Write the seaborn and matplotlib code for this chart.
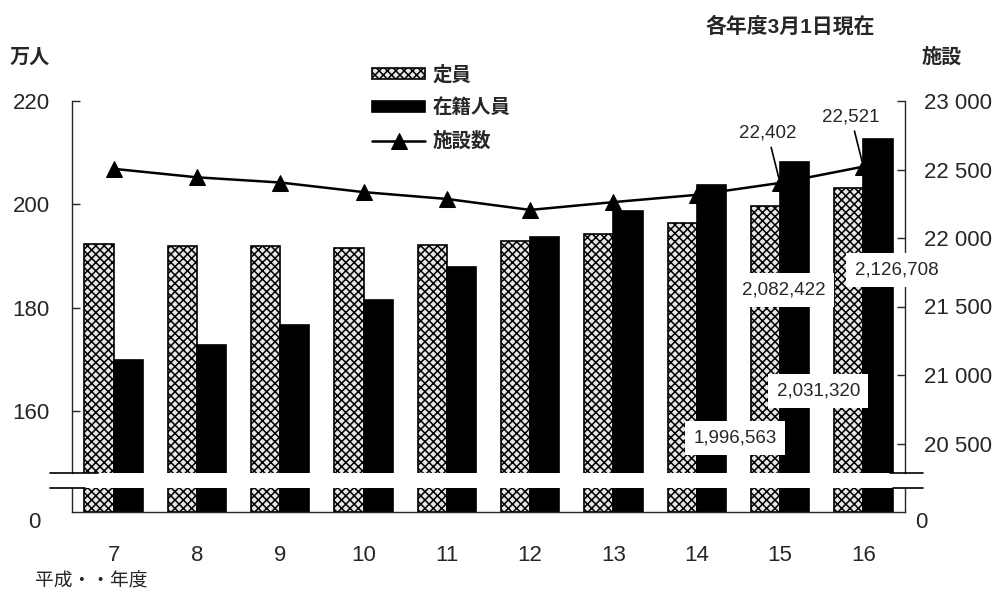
import numpy as np
import pandas as pd
import matplotlib
matplotlib.use("Agg")
import matplotlib.pyplot as plt
from matplotlib.lines import Line2D
from matplotlib.ticker import FuncFormatter
import seaborn as sns

# データ (万人 / 施設)
years = ["7", "8", "9", "10", "11", "12", "13", "14", "15", "16"]
capacity = [192.3, 191.9, 191.9, 191.6, 192.2, 192.9, 194.2, 196.4, 199.6563, 203.1320]   # 定員
enrolled = [170.0, 172.9, 176.7, 181.6, 187.9, 193.7, 198.8, 203.7, 208.2422, 212.6708]   # 在籍人員
facilities = [22505, 22443, 22405, 22335, 22285, 22205, 22262, 22315, 22402, 22521]      # 施設数
series_names = ["定員", "在籍人員"]
line_name = "施設数"

left_ticks = [160, 180, 200, 220]
right_ticks = [20500, 21000, 21500, 22000, 22500, 23000]

df = pd.DataFrame({
    "year": years * 2,
    "series": [series_names[0]] * len(years) + [series_names[1]] * len(years),
    "value": capacity + enrolled,
})

sns.set_style("white")
plt.rcParams["font.family"] = ["Liberation Sans", "Noto Sans CJK JP"]
plt.rcParams["hatch.linewidth"] = 1.1

W, H = 1001, 598
fig = plt.figure(figsize=(W / 100, H / 100), dpi=100)


def box(x0, y0, x1, y1):
    return [x0 / W, 1 - y1 / H, (x1 - x0) / W, (y1 - y0) / H]


px_left = 5.17     # px per 万人
px_right = 0.137   # px per 施設
top_y0, top_y1, bot_y0, bot_y1 = 101, 473, 488, 512

ax_top = fig.add_axes(box(72, top_y0, 905, top_y1))
ax_bot = fig.add_axes(box(72, bot_y0, 905, bot_y1))

palette = {series_names[0]: "#e6e6e6", series_names[1]: "black"}
for ax in (ax_top, ax_bot):
    sns.barplot(data=df, x="year", y="value", hue="series", hue_order=series_names,
                palette=palette, width=0.7, gap=0, edgecolor="black", linewidth=1.2,
                errorbar=None, legend=False, ax=ax, saturation=1)
    for p in ax.containers[0]:
        p.set_hatch("xxxx")
    ax.set_xlim(-0.5, len(years) - 0.5)
    ax.set_xlabel("")
    ax.set_ylabel("")

ax_top.set_ylim(220 - (top_y1 - top_y0) / px_left, 220)
ax_bot.set_ylim(0, (bot_y1 - bot_y0) / px_left)

# 上段
ax_top.set_yticks(left_ticks)
ax_top.tick_params(axis="y", direction="in", length=6, width=1, labelsize=16, pad=16)
ax_top.tick_params(axis="x", bottom=False, labelbottom=False)
for s in ("top", "bottom", "right"):
    ax_top.spines[s].set_visible(False)
ax_top.spines["left"].set_linewidth(1)

# 右軸 (施設数)
ax_r = ax_top.twinx()
sns.lineplot(x=np.arange(len(years)), y=facilities, ax=ax_r, color="black",
             linewidth=1.8, marker="^", markersize=11, markeredgecolor="black")
ax_r.set_xlim(-0.5, len(years) - 0.5)
ax_r.set_ylim(23000 - (top_y1 - top_y0) / px_right, 23000)
ax_r.set_yticks(right_ticks)
ax_r.yaxis.set_major_formatter(FuncFormatter(lambda v, p: f"{int(v):,}".replace(",", " ")))
ax_r.tick_params(axis="y", direction="in", length=6, width=1, labelsize=16, pad=14)
for s in ("top", "bottom", "left"):
    ax_r.spines[s].set_visible(False)
ax_r.spines["right"].set_linewidth(1)

# 下段
ax_bot.set_yticks([0])
ax_bot.tick_params(axis="y", length=0, labelsize=16, pad=23)
ax_bot.tick_params(axis="x", length=0, labelsize=16, pad=24)
ax_bot.spines["top"].set_visible(False)
for s in ("left", "right", "bottom"):
    ax_bot.spines[s].set_linewidth(1)

ax_bot_r = ax_bot.twinx()
ax_bot_r.set_ylim(ax_bot.get_ylim())
ax_bot_r.set_yticks([0])
ax_bot_r.tick_params(axis="y", length=0, labelsize=16, pad=7)
for s in ("top", "left", "bottom", "right"):
    ax_bot_r.spines[s].set_visible(False)

for t in ax_bot.yaxis.get_major_ticks() + ax_bot_r.yaxis.get_major_ticks():
    t.label1.set_va("top")
    t.label2.set_va("top")

# 省略記号 (軸の切れ目)
for (x0, x1, y) in [(50, 98, top_y1), (50, 85, bot_y0), (890, 923, top_y1), (893, 923, bot_y0)]:
    fig.add_artist(Line2D([x0 / W, x1 / W], [1 - y / H, 1 - y / H], color="black", lw=1.2))

# 数値ラベル
bar_labels = [
    (capacity[8], 7.46, 154.8),
    (capacity[9], 8.46, 163.9),
    (enrolled[8], 8.04, 183.4),
    (enrolled[9], 9.40, 187.3),
]
for v, lx, ly in bar_labels:
    ax_r.text(lx, ly, f"{round(v * 10000):,}", transform=ax_top.transData,
              ha="center", va="center", fontsize=13.5, zorder=5, clip_on=False,
              bbox=dict(boxstyle="square,pad=0.45", fc="white", ec="none"))

for i in (8, 9):
    ax_r.annotate(f"{facilities[i]:,}", xy=(i, facilities[i]), xytext=(-9, 36),
                  textcoords="offset points", ha="center", va="center", fontsize=13.5,
                  arrowprops=dict(arrowstyle="-", color="black", lw=1.2, shrinkA=2, shrinkB=4))

# 凡例
handles = [ax_top.containers[0], ax_top.containers[1], ax_r.lines[0]]
fig.legend(handles, series_names + [line_name], loc="upper left",
           bbox_to_anchor=(372 / W, 1 - 65 / H), frameon=False, borderpad=0,
           borderaxespad=0, handlelength=2.75, handleheight=0.55,
           handletextpad=0.35, labelspacing=0.74, prop={"weight": "bold", "size": 14})

fig.text(10 / W, 1 - 57 / H, "万人", fontsize=14.5, weight="bold", va="center", ha="left")
fig.text(922 / W, 1 - 57 / H, "施設", fontsize=14.5, weight="bold", va="center", ha="left")
fig.text(705 / W, 1 - 27 / H, "各年度3月1日現在", fontsize=15, weight="bold", va="center", ha="left")
fig.text(35 / W, 1 - 582 / H, "平成・・年度", fontsize=13.5, va="center", ha="left")

fig.savefig("out.png", dpi=100)
